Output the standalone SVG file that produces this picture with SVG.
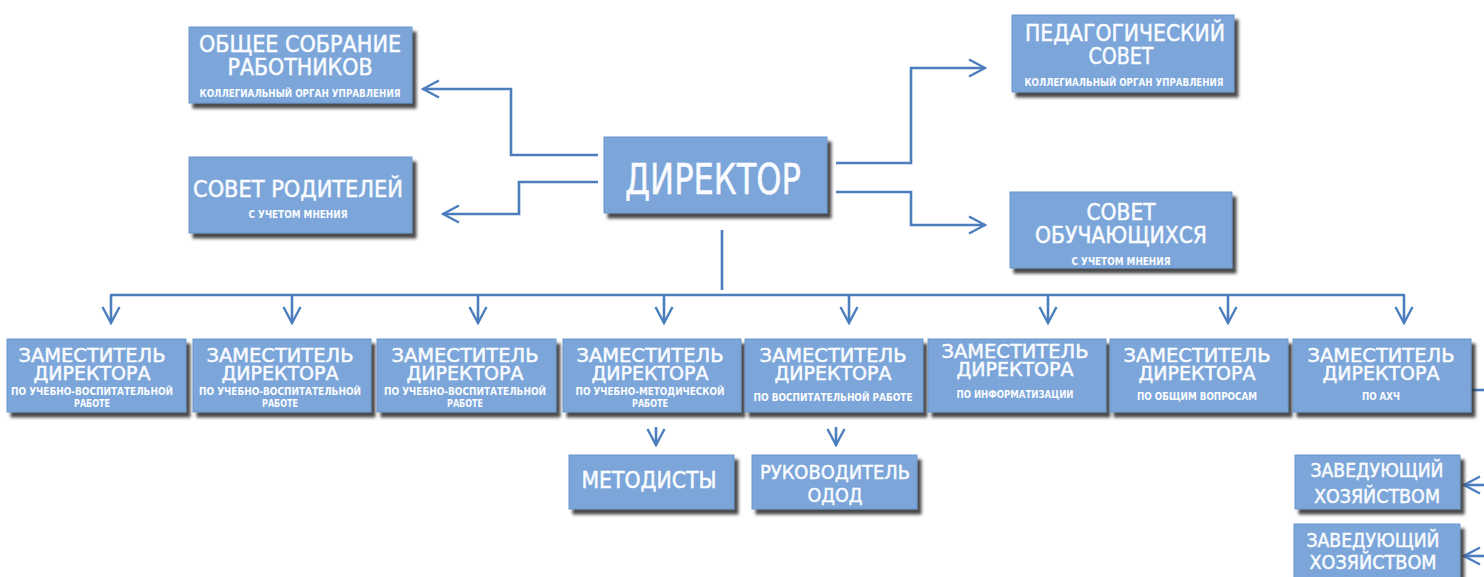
<svg xmlns="http://www.w3.org/2000/svg" width="1484" height="577" viewBox="0 0 1484 577">
<defs>
<filter id="sh" x="-10%" y="-10%" width="125%" height="130%">
<feDropShadow dx="4" dy="5" stdDeviation="1.8" flood-color="#2a2a2a" flood-opacity="0.85"/>
</filter>
<marker id="ah" viewBox="0 0 20 20" refX="18" refY="10" markerWidth="20" markerHeight="20" markerUnits="userSpaceOnUse" orient="auto">
<path d="M2,1.5 L18,10 L2,18.5" fill="none" stroke="#4C7EBE" stroke-width="2.4" stroke-linejoin="miter"/>
</marker>
</defs>
<style>
.box{fill:#7BA6D9;stroke:#6B95C9;stroke-width:1;filter:url(#sh)}
.t{fill:#FAFCFF;stroke:#FAFCFF;stroke-width:0.45;font-family:"DejaVu Sans Condensed","DejaVu Sans",sans-serif;text-anchor:middle}
.s{fill:#FAFCFF;font-family:"DejaVu Sans Condensed","DejaVu Sans",sans-serif;font-weight:bold;text-anchor:middle}
.c{fill:none;stroke:#4C7EBE;stroke-width:2.6}
</style>
<rect width="1484" height="577" fill="#ffffff"/>

<g id="connectors">
<polyline class="c" points="598,155 511,155 511,89 423,89" marker-end="url(#ah)"/>
<polyline class="c" points="598,182 519,182 519,214 443,214" marker-end="url(#ah)"/>
<polyline class="c" points="836,163 911,163 911,68 985,68" marker-end="url(#ah)"/>
<polyline class="c" points="836,192 911,192 911,225 985,225" marker-end="url(#ah)"/>
<line class="c" x1="722" y1="230" x2="722" y2="290"/>
<line class="c" x1="110" y1="295" x2="1405" y2="295"/>
<line class="c" x1="111" y1="295" x2="111" y2="323" marker-end="url(#ah)"/>
<line class="c" x1="292" y1="295" x2="292" y2="323" marker-end="url(#ah)"/>
<line class="c" x1="478" y1="295" x2="478" y2="323" marker-end="url(#ah)"/>
<line class="c" x1="664" y1="295" x2="664" y2="323" marker-end="url(#ah)"/>
<line class="c" x1="849" y1="295" x2="849" y2="323" marker-end="url(#ah)"/>
<line class="c" x1="1048" y1="295" x2="1048" y2="323" marker-end="url(#ah)"/>
<line class="c" x1="1228" y1="295" x2="1228" y2="323" marker-end="url(#ah)"/>
<line class="c" x1="1404" y1="295" x2="1404" y2="323" marker-end="url(#ah)"/>
<line class="c" x1="656" y1="427" x2="656" y2="445" marker-end="url(#ah)"/>
<line class="c" x1="836" y1="427" x2="836" y2="445" marker-end="url(#ah)"/>
<line class="c" x1="1471" y1="390" x2="1484" y2="390"/>
<line class="c" x1="1490" y1="485" x2="1464" y2="485" marker-end="url(#ah)"/>
<line class="c" x1="1490" y1="556" x2="1464" y2="556" marker-end="url(#ah)"/>
</g>

<g id="obshchee-sobranie">
<rect class="box" x="189" y="27" width="223" height="76"/>
<text class="t" x="300" y="52" font-size="23" textLength="202" lengthAdjust="spacingAndGlyphs">ОБЩЕЕ СОБРАНИЕ</text>
<text class="t" x="300" y="75" font-size="23" textLength="145" lengthAdjust="spacingAndGlyphs">РАБОТНИКОВ</text>
<text class="s" x="300" y="97" font-size="11" textLength="201" lengthAdjust="spacingAndGlyphs">КОЛЛЕГИАЛЬНЫЙ ОРГАН УПРАВЛЕНИЯ</text>
</g>

<g id="sovet-roditeley">
<rect class="box" x="189" y="157" width="223" height="76"/>
<text class="t" x="298" y="197" font-size="23" textLength="210" lengthAdjust="spacingAndGlyphs">СОВЕТ РОДИТЕЛЕЙ</text>
<text class="s" x="298" y="218" font-size="11" textLength="99" lengthAdjust="spacingAndGlyphs">С УЧЕТОМ МНЕНИЯ</text>
</g>

<g id="direktor">
<rect class="box" x="604" y="137" width="223" height="76"/>
<text class="t" x="713" y="194" font-size="42" textLength="176" lengthAdjust="spacingAndGlyphs" stroke-width="0.8">ДИРЕКТОР</text>
</g>

<g id="pedsovet">
<rect class="box" x="1012" y="15" width="222" height="77"/>
<text class="t" x="1125" y="41" font-size="23" textLength="200" lengthAdjust="spacingAndGlyphs">ПЕДАГОГИЧЕСКИЙ</text>
<text class="t" x="1121" y="64" font-size="23" textLength="65" lengthAdjust="spacingAndGlyphs">СОВЕТ</text>
<text class="s" x="1124" y="86" font-size="11" textLength="199" lengthAdjust="spacingAndGlyphs">КОЛЛЕГИАЛЬНЫЙ ОРГАН УПРАВЛЕНИЯ</text>
</g>

<g id="sovet-obuchayushchikhsya">
<rect class="box" x="1010" y="192" width="222" height="76"/>
<text class="t" x="1121" y="220" font-size="23" textLength="69" lengthAdjust="spacingAndGlyphs">СОВЕТ</text>
<text class="t" x="1121" y="243" font-size="23" textLength="172" lengthAdjust="spacingAndGlyphs">ОБУЧАЮЩИХСЯ</text>
<text class="s" x="1121" y="265" font-size="11" textLength="99" lengthAdjust="spacingAndGlyphs">С УЧЕТОМ МНЕНИЯ</text>
</g>

<g id="zam-1">
<rect class="box" x="7" y="339" width="179" height="73"/>
<text class="t" x="92" y="362" font-size="20" textLength="147" lengthAdjust="spacingAndGlyphs">ЗАМЕСТИТЕЛЬ</text>
<text class="t" x="92" y="380" font-size="20" textLength="117" lengthAdjust="spacingAndGlyphs">ДИРЕКТОРА</text>
<text class="s" x="92" y="395" font-size="10.5" textLength="162" lengthAdjust="spacingAndGlyphs">ПО УЧЕБНО-ВОСПИТАТЕЛЬНОЙ</text>
<text class="s" x="92" y="407" font-size="10.5" textLength="36" lengthAdjust="spacingAndGlyphs">РАБОТЕ</text>
</g>

<g id="zam-2">
<rect class="box" x="193" y="339" width="178" height="73"/>
<text class="t" x="280" y="362" font-size="20" textLength="147" lengthAdjust="spacingAndGlyphs">ЗАМЕСТИТЕЛЬ</text>
<text class="t" x="280" y="380" font-size="20" textLength="117" lengthAdjust="spacingAndGlyphs">ДИРЕКТОРА</text>
<text class="s" x="280" y="395" font-size="10.5" textLength="162" lengthAdjust="spacingAndGlyphs">ПО УЧЕБНО-ВОСПИТАТЕЛЬНОЙ</text>
<text class="s" x="280" y="407" font-size="10.5" textLength="36" lengthAdjust="spacingAndGlyphs">РАБОТЕ</text>
</g>

<g id="zam-3">
<rect class="box" x="377" y="339" width="179" height="73"/>
<text class="t" x="465" y="362" font-size="20" textLength="147" lengthAdjust="spacingAndGlyphs">ЗАМЕСТИТЕЛЬ</text>
<text class="t" x="465" y="380" font-size="20" textLength="117" lengthAdjust="spacingAndGlyphs">ДИРЕКТОРА</text>
<text class="s" x="465" y="395" font-size="10.5" textLength="162" lengthAdjust="spacingAndGlyphs">ПО УЧЕБНО-ВОСПИТАТЕЛЬНОЙ</text>
<text class="s" x="465" y="407" font-size="10.5" textLength="36" lengthAdjust="spacingAndGlyphs">РАБОТЕ</text>
</g>

<g id="zam-4">
<rect class="box" x="563" y="339" width="178" height="73"/>
<text class="t" x="650" y="362" font-size="20" textLength="147" lengthAdjust="spacingAndGlyphs">ЗАМЕСТИТЕЛЬ</text>
<text class="t" x="650" y="380" font-size="20" textLength="117" lengthAdjust="spacingAndGlyphs">ДИРЕКТОРА</text>
<text class="s" x="650" y="395" font-size="10.5" textLength="149" lengthAdjust="spacingAndGlyphs">ПО УЧЕБНО-МЕТОДИЧЕСКОЙ</text>
<text class="s" x="650" y="407" font-size="10.5" textLength="36" lengthAdjust="spacingAndGlyphs">РАБОТЕ</text>
</g>

<g id="zam-5">
<rect class="box" x="745" y="339" width="178" height="73"/>
<text class="t" x="833" y="362" font-size="20" textLength="147" lengthAdjust="spacingAndGlyphs">ЗАМЕСТИТЕЛЬ</text>
<text class="t" x="833" y="380" font-size="20" textLength="117" lengthAdjust="spacingAndGlyphs">ДИРЕКТОРА</text>
<text class="s" x="833" y="401" font-size="10.5" textLength="159" lengthAdjust="spacingAndGlyphs">ПО ВОСПИТАТЕЛЬНОЙ РАБОТЕ</text>
</g>

<g id="zam-6">
<rect class="box" x="928" y="339" width="178" height="73"/>
<text class="t" x="1015" y="358" font-size="20" textLength="147" lengthAdjust="spacingAndGlyphs">ЗАМЕСТИТЕЛЬ</text>
<text class="t" x="1015" y="376" font-size="20" textLength="117" lengthAdjust="spacingAndGlyphs">ДИРЕКТОРА</text>
<text class="s" x="1015" y="398" font-size="10.5" textLength="117" lengthAdjust="spacingAndGlyphs">ПО ИНФОРМАТИЗАЦИИ</text>
</g>

<g id="zam-7">
<rect class="box" x="1110" y="339" width="178" height="73"/>
<text class="t" x="1197" y="362" font-size="20" textLength="147" lengthAdjust="spacingAndGlyphs">ЗАМЕСТИТЕЛЬ</text>
<text class="t" x="1197" y="380" font-size="20" textLength="117" lengthAdjust="spacingAndGlyphs">ДИРЕКТОРА</text>
<text class="s" x="1197" y="400" font-size="10.5" textLength="120" lengthAdjust="spacingAndGlyphs">ПО ОБЩИМ ВОПРОСАМ</text>
</g>

<g id="zam-8">
<rect class="box" x="1293" y="339" width="178" height="73"/>
<text class="t" x="1381" y="362" font-size="20" textLength="147" lengthAdjust="spacingAndGlyphs">ЗАМЕСТИТЕЛЬ</text>
<text class="t" x="1381" y="380" font-size="20" textLength="117" lengthAdjust="spacingAndGlyphs">ДИРЕКТОРА</text>
<text class="s" x="1381" y="400" font-size="10.5" textLength="38" lengthAdjust="spacingAndGlyphs">ПО АХЧ</text>
</g>

<g id="metodisty">
<rect class="box" x="569" y="455" width="165" height="54"/>
<text class="t" x="649" y="488" font-size="23" textLength="135" lengthAdjust="spacingAndGlyphs">МЕТОДИСТЫ</text>
</g>

<g id="rukovoditel-odod">
<rect class="box" x="752" y="455" width="165" height="54"/>
<text class="t" x="835" y="479" font-size="20" textLength="150" lengthAdjust="spacingAndGlyphs">РУКОВОДИТЕЛЬ</text>
<text class="t" x="835" y="502" font-size="20" textLength="55" lengthAdjust="spacingAndGlyphs">ОДОД</text>
</g>

<g id="zaveduyushchiy-1">
<rect class="box" x="1295" y="455" width="165" height="54"/>
<text class="t" x="1377" y="477" font-size="19" textLength="133" lengthAdjust="spacingAndGlyphs">ЗАВЕДУЮЩИЙ</text>
<text class="t" x="1377" y="503" font-size="19" textLength="126" lengthAdjust="spacingAndGlyphs">ХОЗЯЙСТВОМ</text>
</g>

<g id="zaveduyushchiy-2">
<rect class="box" x="1294" y="524" width="166" height="60"/>
<text class="t" x="1373" y="547" font-size="19" textLength="133" lengthAdjust="spacingAndGlyphs">ЗАВЕДУЮЩИЙ</text>
<text class="t" x="1373" y="569" font-size="19" textLength="127" lengthAdjust="spacingAndGlyphs">ХОЗЯЙСТВОМ</text>
</g>
</svg>
